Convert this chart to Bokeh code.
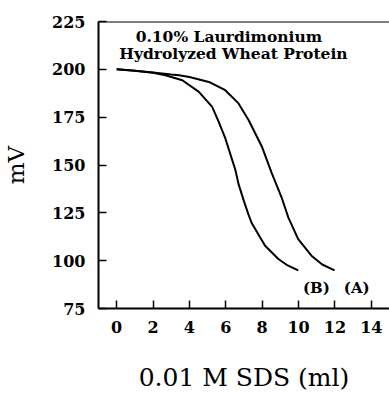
from bokeh.plotting import figure
from bokeh.models import Label, Span, FixedTicker, Range1d
from bokeh.embed import file_html
from bokeh.resources import INLINE

# Curve A (right-hand curve)
a_x = [0, 1, 2, 3, 3.43, 4, 5.07, 5.97, 6.7, 7.25, 7.98, 8.52, 9.07, 9.44, 9.98, 10.71, 11.3, 11.98]
a_y = [200, 199.2, 198.3, 197.3, 196.9, 196, 193.4, 189.1, 182.2, 173.5, 159.7, 145.9, 133, 122.5, 111.3, 102.6, 98, 94.9]
# Curve B (left-hand curve)
b_x = [0, 1, 2, 2.68, 3.61, 4.52, 5.25, 5.61, 5.97, 6.52, 6.7, 7.0, 7.25, 7.43, 8.16, 8.89, 9.4, 9.98]
b_y = [200, 199.2, 198.2, 196.9, 194.3, 188.2, 180.4, 172.5, 164, 147.6, 140, 131, 124, 119.5, 107.8, 100.9, 97.5, 94.9]

x_ticks = [0, 2, 4, 6, 8, 10, 12, 14]
y_ticks = [75, 100, 125, 150, 175, 200, 225]
title_lines = ["0.10% Laurdimonium", "Hydrolyzed Wheat Protein"]
x_label = "0.01 M SDS (ml)"
y_label = "mV"

FONT = "DejaVu Serif"

p = figure(width=389, height=394, output_backend="svg", toolbar_location=None,
           x_range=Range1d(-1, 15), y_range=Range1d(75, 225),
           min_border_left=97, min_border_right=0, min_border_top=21, min_border_bottom=84)
p.outline_line_color = None
p.grid.grid_line_color = None
p.background_fill_color = "white"
p.border_fill_color = "white"

p.line(a_x, a_y, line_color="black", line_width=2)
p.line(b_x, b_y, line_color="black", line_width=2)

for ax in (p.xaxis[0], p.yaxis[0]):
    ax.axis_line_width = 2
    ax.axis_line_color = "black"
    ax.major_tick_in = 8
    ax.major_tick_out = 0
    ax.major_tick_line_width = 1.5
    ax.minor_tick_line_color = None
    ax.major_label_text_font = FONT
    ax.major_label_text_font_style = "bold"
    ax.major_label_text_font_size = "16px"
    ax.major_label_text_color = "black"
    ax.axis_label_text_font = FONT
    ax.axis_label_text_font_style = "normal"
    ax.axis_label_text_color = "black"

p.xaxis.axis_label_text_font_size = "25px"
p.yaxis.axis_label_text_font_size = "23px"
p.xaxis.ticker = FixedTicker(ticks=x_ticks)
p.yaxis.ticker = FixedTicker(ticks=y_ticks)
p.xaxis.axis_label = x_label
p.yaxis.axis_label = y_label
p.xaxis.major_label_standoff = 12
p.yaxis.major_label_standoff = 13
p.xaxis.axis_label_standoff = 27
p.yaxis.axis_label_standoff = 20

p.add_layout(Span(location=225, dimension="width", line_color="black", line_width=2))

p.add_layout(Label(x=6.17, y=217.1, text=title_lines[0], text_align="center", text_baseline="middle",
                   text_font=FONT, text_font_style="bold", text_font_size="15.5px", text_color="black"))
p.add_layout(Label(x=6.42, y=208.3, text=title_lines[1], text_align="center", text_baseline="middle",
                   text_font=FONT, text_font_style="bold", text_font_size="15.5px", text_color="black"))
p.add_layout(Label(x=10.98, y=85.9, text="(B)", text_align="center", text_baseline="middle",
                   text_font=FONT, text_font_style="bold", text_font_size="15px", text_color="black"))
p.add_layout(Label(x=13.2, y=85.9, text="(A)", text_align="center", text_baseline="middle",
                   text_font=FONT, text_font_style="bold", text_font_size="15px", text_color="black"))

open("out.html", "w").write(file_html(p, INLINE))
